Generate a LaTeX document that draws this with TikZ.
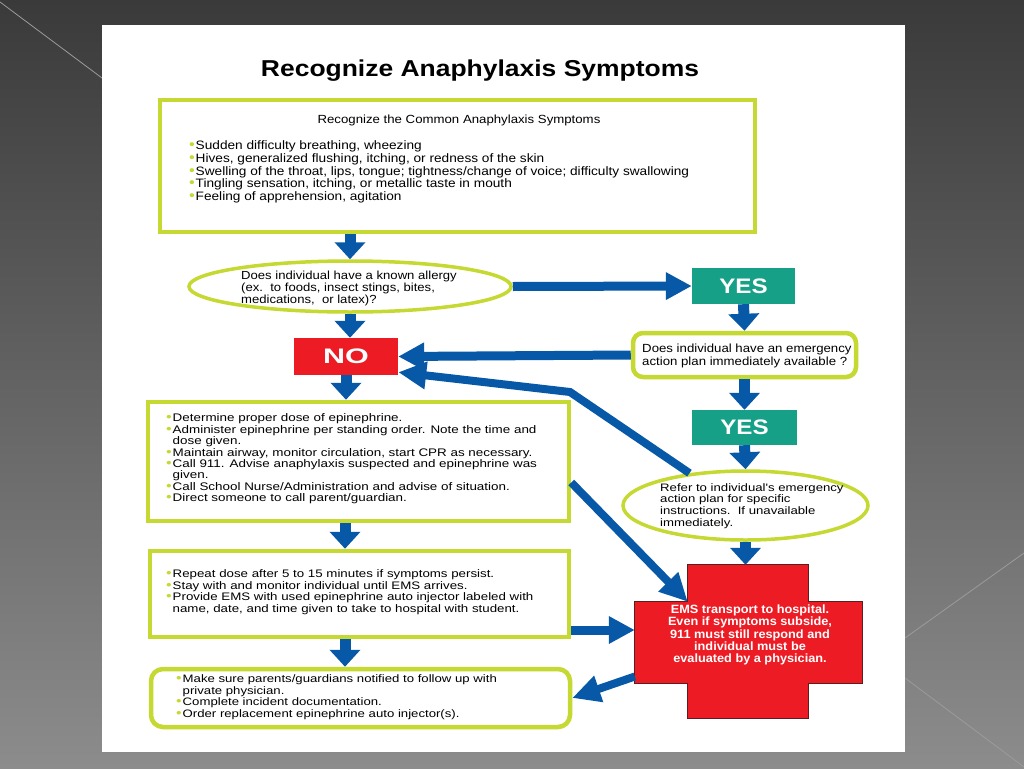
\documentclass[tikz,border=0pt]{standalone}
\usepackage{fontspec}
\usepackage{graphicx}
\setmainfont{Liberation Sans}
\newfontfamily\bodyf[FakeStretch=1.12]{Liberation Sans}
\newfontfamily\bodyw[FakeStretch=1.22]{Liberation Sans}
\newfontfamily\boldf[FakeStretch=1.15]{Liberation Sans Bold}
\newfontfamily\boldc[FakeStretch=1.06]{Liberation Sans Bold}
\newfontfamily\nof[FakeStretch=1.45]{Liberation Sans Bold}
\usetikzlibrary{arrows.meta,shapes.geometric}
\definecolor{lime}{RGB}{198,216,50}
\definecolor{ablue}{RGB}{8,88,168}
\definecolor{ared}{RGB}{237,28,36}
\definecolor{ateal}{RGB}{22,160,136}
\definecolor{cdark}{RGB}{90,30,30}
\definecolor{bgtop}{RGB}{58,58,58}
\definecolor{bgbot}{RGB}{140,140,140}
\definecolor{bgl}{RGB}{155,155,155}
\newcommand{\bul}{\makebox[6.5pt][l]{\textcolor{lime}{\scalebox{1.2}{•}}}}
\newcommand{\ind}{\hspace*{6.5pt}}
\begin{document}
\begin{tikzpicture}[x=1pt,y=-1pt,
 gbox/.style={draw=lime, line width=4.5pt, fill=white, inner sep=0pt},
 gell/.style={ellipse, draw=lime, line width=3.5pt, fill=white, inner sep=0pt},
 tagbox/.style={inner sep=0pt, text=white, font=\boldf\fontsize{21}{21}\selectfont},
 txt/.style={inner sep=0pt, align=left, anchor=west},
 varrow/.style={draw=ablue, line width=11pt, -{Triangle[width=30pt,length=17pt]}},
 harrow/.style={draw=ablue, line width=9pt, -{Triangle[width=26pt,length=26pt]}},
 darrow/.style={draw=ablue, line width=8pt, line join=miter, -{Triangle[width=26pt,length=28pt]}},
 bgline/.style={draw=bgl, line width=0.8pt},
]
\useasboundingbox (0,0) rectangle (1024,768);
\shade[top color=bgtop, bottom color=bgbot] (0,0) rectangle (1024,768);
\draw[bgline] (0,2) -- (102,78);
\draw[bgline] (1024,553) -- (905,638);
\draw[bgline] (905,678) -- (1024,767);
\fill[white] (102,25) rectangle (905,752);

\node[font=\boldf\fontsize{23}{23}\selectfont] (title) at (480,71) {Recognize Anaphylaxis Symptoms};

% top box
\node[gbox, minimum width=595pt, minimum height=132pt] (topbox) at (457.5,166) {};
\node[font=\bodyf\fontsize{11.8}{12}\selectfont, inner sep=0pt] (toptitle) at (459,120) {Recognize the Common Anaphylaxis Symptoms};
\node[txt, font=\bodyf\fontsize{12.2}{12.7}\selectfont] (topsym) at (189,172) {\bul Sudden difficulty breathing, wheezing\\
\bul Hives, generalized flushing, itching, or redness of the skin\\
\bul Swelling of the throat, lips, tongue; tightness/change of voice; difficulty swallowing\\
\bul Tingling sensation, itching, or metallic taste in mouth\\
\bul Feeling of apprehension, agitation};

% question ellipse
\node[gell, minimum width=322pt, minimum height=51pt] (ell1) at (350,286.5) {};
\node[txt, font=\bodyf\fontsize{11.7}{12}\selectfont] (ell1t) at (241,288) {Does individual have a known allergy\\(ex.\ \ to foods, insect stings, bites,\\medications,\ \ or latex)?};

\node[tagbox, fill=ateal, minimum width=103pt, minimum height=36pt] (yes1) at (743.5,286) {YES};
\node[tagbox, fill=ared, minimum width=104pt, minimum height=37pt, font=\nof\fontsize{21}{21}\selectfont] (no) at (346,356.5) {NO};

\node[gbox, rounded corners=10pt, minimum width=223pt, minimum height=44pt] (plan) at (744.5,355) {};
\node[txt, font=\bodyf\fontsize{11.8}{12.8}\selectfont] (plant) at (642,356) {Does individual have an emergency\\action plan immediately available ?};

\node[tagbox, fill=ateal, minimum width=105pt, minimum height=35pt] (yes2) at (744.5,427.5) {YES};

\node[gell, minimum width=245pt, minimum height=69pt] (refer) at (745.5,505.5) {};
\node[txt, font=\bodyw\fontsize{10.8}{11.7}\selectfont] (refert) at (660,506) {Refer to individual's emergency\\action plan for specific\\instructions.\ \ If unavailable\\immediately.};

% left boxes
\node[gbox, minimum width=421pt, minimum height=119pt] (box2) at (358.5,461.5) {};
\node[txt, font=\bodyw\fontsize{11}{11.4}\selectfont] (box2t) at (166,459) {\bul Determine proper dose of epinephrine.\\
\bul Administer epinephrine per standing order. Note the time and\\
\ind dose given.\\
\bul Maintain airway, monitor circulation, start CPR as necessary.\\
\bul Call 911. Advise anaphylaxis suspected and epinephrine was\\
\ind given.\\
\bul Call School Nurse/Administration and advise of situation.\\
\bul Direct someone to call parent/guardian.};

\node[gbox, minimum width=419pt, minimum height=86pt] (box3) at (359.5,594) {};
\node[txt, font=\bodyw\fontsize{10.9}{11.6}\selectfont] (box3t) at (166,592) {\bul Repeat dose after 5 to 15 minutes if symptoms persist.\\
\bul Stay with and monitor individual until EMS arrives.\\
\bul Provide EMS with used epinephrine auto injector labeled with\\
\ind name, date, and time given to take to hospital with student.};

\node[gbox, rounded corners=12pt, minimum width=419pt, minimum height=58pt] (box4) at (360.5,698) {};
\node[txt, font=\bodyw\fontsize{10.8}{11.5}\selectfont] (box4t) at (176,697) {\bul Make sure parents/guardians notified to follow up with\\
\ind private physician.\\
\bul Complete incident documentation.\\
\bul Order replacement epinephrine auto injector(s).};

% red cross
\node[inner sep=0pt, minimum width=120pt, minimum height=153pt] (crossV) at (748,641.5) {};
\node[inner sep=0pt, minimum width=227pt, minimum height=81pt] (crossH) at (748.5,642.5) {};
\draw[fill=ared, draw=cdark, line width=0.8pt] (crossV.north west) -- (crossV.north east) -- (crossV.east |- crossH.north) -- (crossH.north east) -- (crossH.south east) -- (crossV.east |- crossH.south) -- (crossV.south east) -- (crossV.south west) -- (crossV.west |- crossH.south) -- (crossH.south west) -- (crossH.north west) -- (crossV.west |- crossH.north) -- cycle;
\node[font=\boldc\fontsize{12}{12.3}\selectfont, text=white, align=center, inner sep=0pt] (emst) at (750,635) {EMS transport to hospital.\\Even if symptoms subside,\\911 must still respond and\\individual must be\\evaluated by a physician.};

% connectors
\coordinate (bend1) at (570,392);
\draw[varrow] (ell1.north |- topbox.south) -- (ell1.north);
\draw[harrow] (ell1.east) -- (yes1.west);
\draw[varrow] (yes1.south) -- (plan.north);
\draw[harrow] (plan.west) -- (no.east);
\draw[varrow] (ell1.south) -- (ell1.south |- no.north);
\draw[varrow] (no.south) -- (no.south |- box2.north);
\draw[varrow] (plan.south) -- (yes2.north);
\draw[varrow] (yes2.south) -- (refer.north);
\draw[darrow] (refer.150) -- (bend1) -- ([yshift=3pt]no.south east);
\draw[varrow] (refer.south) -- (refer.south |- crossV.north);
\draw[varrow] ([xshift=-13.5pt]box2.south) -- ([xshift=-13.5pt]box2.south |- box3.north);
\draw[varrow] ([xshift=-14.5pt]box3.south) -- ([xshift=-14.5pt]box3.south |- box4.north);
\draw[darrow] ([yshift=-21pt]box2.east) -- (crossV.west |- crossH.north);
\draw[harrow] ([yshift=-36pt]box3.east) -- ([yshift=-36pt]box3.east -| crossH.west);
\draw[darrow] ([yshift=-34pt]crossH.west) -- (box4.east);
\end{tikzpicture}
\end{document}
